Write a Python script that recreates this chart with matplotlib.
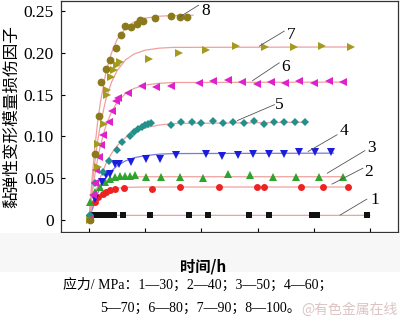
import numpy as np
import matplotlib
matplotlib.use("Agg")
import matplotlib.pyplot as plt
from matplotlib.patches import Rectangle

plt.rcParams['font.family'] = ['Liberation Serif', 'Noto Sans CJK SC', 'DejaVu Sans']
plt.rcParams['axes.unicode_minus'] = False

# measured points, time (h) and damage factor
t1 = [0.002, 0.015, 0.027, 0.041, 0.057, 0.072, 0.089, 0.122, 0.216, 0.356,
      0.423, 0.568, 0.642, 0.793, 0.81, 0.99]
y1 = [0.0005, 0.0056, 0.0056, 0.0056, 0.0056, 0.0056, 0.0056, 0.0056, 0.0056, 0.0056,
      0.0056, 0.0056, 0.0056, 0.0056, 0.0056, 0.0056]

t2 = [0.002, 0.021, 0.033, 0.049, 0.06, 0.074, 0.092, 0.124, 0.225, 0.323,
      0.462, 0.597, 0.624, 0.754, 0.833, 0.923]
y2 = [0.001, 0.022, 0.028, 0.0317, 0.0337, 0.0357, 0.0369, 0.0385, 0.0369, 0.0397,
      0.0397, 0.0397, 0.0397, 0.0397, 0.0397, 0.0397]

t3 = [0.002, 0.004, 0.021, 0.039, 0.057, 0.074, 0.092, 0.11, 0.128, 0.145, 0.163,
      0.201, 0.255, 0.325, 0.405, 0.494, 0.573, 0.656, 0.736, 0.819, 0.904]
y3 = [0.001, 0.021, 0.033, 0.0397, 0.0456, 0.0496, 0.0516, 0.0524, 0.0524, 0.0526, 0.0536,
      0.0516, 0.0516, 0.0516, 0.0508, 0.0548, 0.0536, 0.0516, 0.0516, 0.0516, 0.0516]

t4 = [0.002, 0.02, 0.045, 0.06, 0.074, 0.093, 0.108, 0.148, 0.201, 0.254, 0.311,
      0.417, 0.474, 0.53, 0.583, 0.639, 0.695, 0.748, 0.805, 0.861]
y4 = [0.001, 0.025, 0.046, 0.054, 0.0556, 0.0667, 0.0675, 0.0694, 0.0726, 0.0726, 0.0774,
      0.0786, 0.0766, 0.0774, 0.0794, 0.0794, 0.0794, 0.0813, 0.0813, 0.0813]

t5 = [0.004, 0.021, 0.049, 0.072, 0.098, 0.116, 0.145, 0.161, 0.175, 0.187, 0.199,
      0.21, 0.22, 0.293, 0.329, 0.368, 0.40, 0.441, 0.476, 0.513, 0.55, 0.586,
      0.624, 0.66, 0.695, 0.733, 0.77]
y5 = [0.006, 0.044, 0.058, 0.071, 0.084, 0.093, 0.101, 0.105, 0.109, 0.111, 0.114,
      0.115, 0.116, 0.114, 0.117, 0.117, 0.116, 0.119, 0.116, 0.117, 0.116, 0.119,
      0.115, 0.117, 0.117, 0.117, 0.117]

t6 = [0.002, 0.013, 0.02, 0.025, 0.037, 0.044, 0.051, 0.07, 0.083, 0.097, 0.104,
      0.137, 0.19, 0.238, 0.29, 0.39, 0.443, 0.496, 0.545, 0.597, 0.647, 0.699,
      0.748, 0.801, 0.855, 0.904]
y6 = [0.001, 0.03, 0.044, 0.06, 0.075, 0.09, 0.102, 0.117, 0.131, 0.142, 0.146,
      0.152, 0.16, 0.159, 0.16, 0.164, 0.166, 0.1675, 0.165, 0.163, 0.165, 0.164,
      0.166, 0.164, 0.166, 0.165]

t7 = [0.002, 0.031, 0.03, 0.052, 0.063, 0.063, 0.077, 0.09, 0.098, 0.11, 0.213,
      0.319, 0.417, 0.524, 0.627, 0.728, 0.831, 0.931]
y7 = [0.0, 0.063, 0.091, 0.115, 0.149, 0.156, 0.171, 0.18, 0.186, 0.189, 0.193,
      0.1996, 0.2036, 0.208, 0.207, 0.2075, 0.208, 0.2068]

t8 = [0.003, 0.021, 0.037, 0.041, 0.059, 0.076, 0.097, 0.115, 0.127, 0.148, 0.169,
      0.18, 0.193, 0.235, 0.293, 0.323, 0.35]
y8 = [0.0, 0.079, 0.124, 0.165, 0.181, 0.192, 0.206, 0.221, 0.232, 0.231, 0.235,
      0.239, 0.238, 0.242, 0.244, 0.243, 0.243]

# fitted curves, sampled on a common time grid plus a final plateau point
t_fit = [0, 0.005, 0.01, 0.02, 0.03, 0.04, 0.06, 0.08, 0.1, 0.13, 0.16, 0.2, 0.25, 0.3]
f1 = [0, 0.0035, 0.0048, 0.0055, 0.0056, 0.0056, 0.0056, 0.0056, 0.0056, 0.0056, 0.0056, 0.0056, 0.0056, 0.0056]
f2 = [0, 0.0061, 0.0112, 0.0192, 0.025, 0.0291, 0.0342, 0.0368, 0.0381, 0.039, 0.0393, 0.0395, 0.0395, 0.0395]
f3 = [0, 0.0094, 0.0171, 0.0285, 0.0362, 0.0413, 0.0471, 0.0497, 0.0509, 0.0515, 0.0517, 0.0518, 0.0518, 0.0518]
f4 = [0, 0.0064, 0.0123, 0.0227, 0.0315, 0.0389, 0.0506, 0.0589, 0.0649, 0.0708, 0.0745, 0.0771, 0.0788, 0.0795]
f5 = [0, 0.0081, 0.0156, 0.0292, 0.0409, 0.0509, 0.0674, 0.0797, 0.0889, 0.0988, 0.1051, 0.1103, 0.1137, 0.1154]
f6 = [0, 0.0152, 0.0289, 0.0526, 0.0723, 0.0886, 0.113, 0.1295, 0.1409, 0.1515, 0.1574, 0.1615, 0.1636, 0.1645]
f7 = [0, 0.0197, 0.0375, 0.0683, 0.0934, 0.114, 0.1447, 0.165, 0.179, 0.1916, 0.1986, 0.2032, 0.2056, 0.2065]
f8 = [0, 0.0247, 0.047, 0.085, 0.116, 0.14, 0.177, 0.2, 0.216, 0.2296, 0.2369, 0.2415, 0.2438, 0.2446]
fit_end_t = [1.0, 0.93, 0.91, 0.87, 0.77, 0.91, 0.93, 0.37]
fit_end_y = [0.0056, 0.0395, 0.0518, 0.080, 0.117, 0.165, 0.207, 0.245]

series = [
    (t1, y1, f1, 's', 3.9, '#111111'),
    (t2, y2, f2, 'o', 5.0, '#ee2222'),
    (t3, y3, f3, '^', 5.5, '#2ca52c'),
    (t4, y4, f4, 'v', 5.5, '#1c1cdc'),
    (t5, y5, f5, 'D', 4.5, '#23908c'),
    (t6, y6, f6, '<', 5.5, '#dd22cc'),
    (t7, y7, f7, '>', 5.5, '#a39a1e'),
    (t8, y8, f8, 'o', 5.6, '#8a7a1c'),
]
fit_colors = ['#f0a0a0'] * 8
fit_colors[3] = '#7878e6'

# curve labels: text position, leader line start and end
labels = ['1', '2', '3', '4', '5', '6', '7', '8']
label_xy = [(1.018, 0.024), (0.996, 0.058), (1.004, 0.0857), (0.908, 0.106),
            (0.677, 0.138), (0.699, 0.183), (0.72, 0.221), (0.415, 0.25)]
leader = [((0.894, 0.006), (0.989, 0.025)),
          ((0.865, 0.043), (0.975, 0.062)),
          ((0.848, 0.056), (0.982, 0.083)),
          ((0.78, 0.082), (0.883, 0.102)),
          ((0.528, 0.119), (0.66, 0.138)),
          ((0.582, 0.1667), (0.677, 0.188)),
          ((0.606, 0.208), (0.695, 0.226)),
          ((0.323, 0.243), (0.39, 0.257))]

fig = plt.figure(figsize=(4.0, 3.23), dpi=100)
fig.patches.append(Rectangle((0, 51 / 323), 1, 39 / 323, transform=fig.transFigure,
                             facecolor='#f7f7f7', edgecolor='none', zorder=0))
ax = fig.add_axes([61 / 400, 91.5 / 323, 337 / 400, 230.5 / 323])

for i, (tt, yy, ff, mk, ms, col) in enumerate(series):
    ax.plot(t_fit + [fit_end_t[i]], ff + [fit_end_y[i]], color=fit_colors[i],
            lw=0.9, zorder=2)
    ax.plot(tt, yy, linestyle='none', marker=mk, markersize=ms, color=col,
            markeredgewidth=0, zorder=3)

for lab, (tx, ty), (p0, p1) in zip(labels, label_xy, leader):
    ax.plot([p0[0], p1[0]], [p0[1], p1[1]], color='#555555', lw=0.6, zorder=4)
    ax.text(tx, ty, lab, fontsize=12.5, ha='center', va='center',
            family='Liberation Serif')

ax.set_xlim(-0.1, 1.1)
ax.set_ylim(-0.0137, 0.262)
ax.set_xticks([0, 0.2, 0.4, 0.6, 0.8, 1.0])
ax.set_xticklabels(['0', '0.2', '0.4', '0.6', '0.8', '1.0'])
ax.set_yticks([0, 0.05, 0.10, 0.15, 0.20, 0.25])
ax.set_yticklabels(['0', '0.05', '0.10', '0.15', '0.20', '0.25'])
ax.tick_params(direction='in', length=3, width=0.8, labelsize=12.5, pad=5)
for sp in ax.spines.values():
    sp.set_linewidth(0.9)
    sp.set_color('#333333')

fig.text(12 / 400, 1 - 117 / 323, '黏弹性变形模量损伤因子', family=['Noto Sans CJK SC'],
         fontsize=12, rotation=90, ha='center', va='center')
fig.text(203 / 400, 1 - 267 / 323, '时间/h', family=['Noto Sans CJK SC', 'Liberation Serif'],
         fontsize=11, fontweight='bold', ha='center', va='center')
fig.text(63 / 400, 1 - 285 / 323, '应力/ MPa：1—30；2—40；3—50；4—60；',
         family=['Liberation Serif', 'Noto Sans CJK SC'], fontsize=10,
         ha='left', va='center')
fig.text(100 / 400, 1 - 308 / 323, '5—70；6—80；7—90；8—100。',
         family=['Liberation Serif', 'Noto Sans CJK SC'], fontsize=10,
         ha='left', va='center')
fig.text(398 / 400, 1 - 310 / 323, '@有色金属在线', family=['Noto Sans CJK SC'],
         fontsize=10, color='#dcc4c4', ha='right', va='center')

fig.savefig('out.png', dpi=100)
